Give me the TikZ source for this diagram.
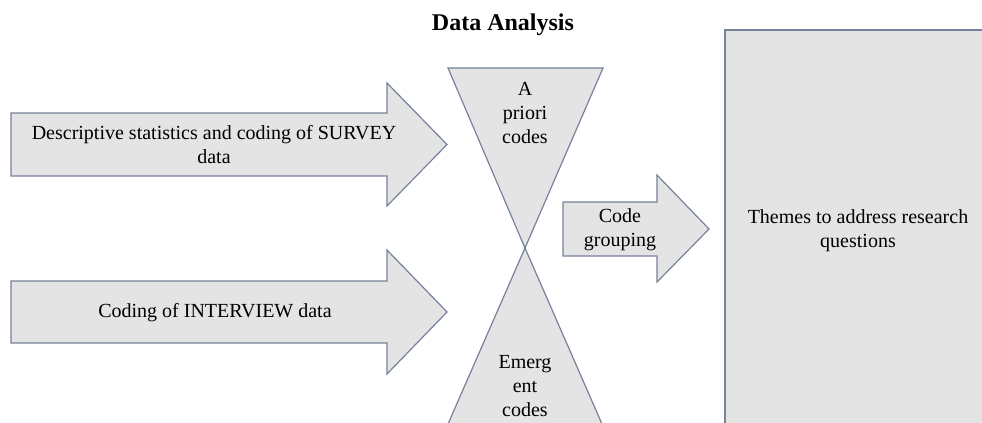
\documentclass[tikz,border=0pt]{standalone}
\usepackage{fontspec}
\setmainfont{Liberation Serif}
\definecolor{shapefill}{HTML}{E4E4E4}
\definecolor{shapeline}{HTML}{76839A}
\tikzset{
 shp/.style={fill=shapefill, draw=shapeline, line width=0.9pt, line join=miter},
 lbl/.style={align=center, font=\fontsize{15}{18}\selectfont, inner sep=0pt},
 ttl/.style={font=\fontsize{18}{22}\selectfont\bfseries, inner sep=0pt}
}
\begin{document}
\begin{tikzpicture}[x=0.75pt,y=-0.75pt]
\useasboundingbox (0,0) rectangle (982,422);
\clip (0,0) rectangle (982,422);
% arrow 1
\draw[shp] (11,113) -- (387,113) -- (387,83) -- (447,144.5) -- (387,206) -- (387,176) -- (11,176) -- cycle;
% arrow 2
\draw[shp] (11,281) -- (387,281) -- (387,250) -- (447,312) -- (387,374) -- (387,343) -- (11,343) -- cycle;
% hourglass
\draw[shp] (448,68) -- (603,68) -- (525,248) -- cycle;
\draw[shp] (525,248) -- (609,440) -- (441,440) -- cycle;
% small arrow
\draw[shp] (563,202) -- (657,202) -- (657,175) -- (709,229) -- (657,282) -- (657,256) -- (563,256) -- cycle;
% big box
\draw[shp] (725,30) rectangle (1000,450);
% texts
\node[ttl] (title) at (503,25) {Data Analysis};
\node[lbl] (survey) at (214,145) {Descriptive statistics and coding of SURVEY\\data};
\node[lbl] (interview) at (215,313) {Coding of INTERVIEW data};
\node[lbl] (apriori) at (525,113) {A\\priori\\codes};
\node[lbl] (emergent) at (525,386) {Emerg\\ent\\codes};
\node[lbl] (grouping) at (620,230) {Code\\grouping};
\node[lbl] (themes) at (858,230.5) {Themes to address research\\questions};
\end{tikzpicture}
\end{document}
